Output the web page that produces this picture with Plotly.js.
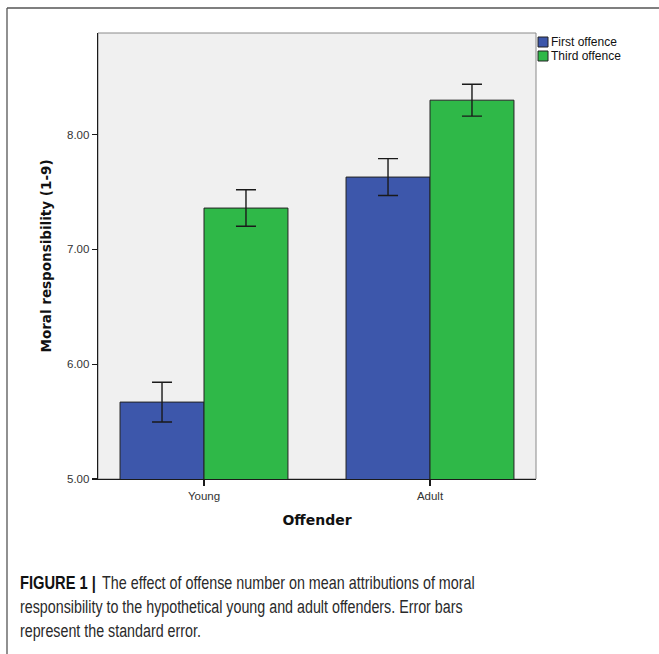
<!DOCTYPE html>
<html>
<head>
<meta charset="utf-8">
<script src="https://cdn.plot.ly/plotly-3.0.1.min.js"></script>
<style>
  html, body { margin: 0; padding: 0; background: #ffffff; }
  #chart { width: 659px; height: 654px; }
</style>
</head>
<body>
<div id="chart"></div>
<script>
// ---- data ----
const categories = ['Young', 'Adult'];
const seriesNames = ['First offence', 'Third offence'];
const firstMeans = [5.67, 7.63];
const firstSE = [0.173, 0.161];
const thirdMeans = [7.36, 8.30];
const thirdSE = [0.159, 0.139];
const yTickVals = [5, 6, 7, 8];
const xTitle = 'Offender';
const yTitle = 'Moral responsibility (1-9)';
const captionBold = 'FIGURE 1 |';
const captionLines = [
  'The effect of offense number on mean attributions of moral',
  'responsibility to the hypothetical young and adult offenders. Error bars',
  'represent the standard error.'
];

// ---- styling ----
const colors = ['#3d57ab', '#2fb848'];
const W = 659, H = 654;
const M = { l: 98, r: 123, t: 33, b: 175 };
const PW = W - M.l - M.r, PH = H - M.t - M.b;
const px = x => (x - M.l) / PW;
const py = y => (H - M.b - y) / PH;
// caption pieces: [left x, target text width] in pixels
const capBoldBox = [18, 76];
const capLineBoxes = [[100, 373], [18, 443], [18, 181]];

const errStyle = { type: 'data', symmetric: true, color: '#1a1a1a', thickness: 1.4, width: 10 };
const traces = [
  { type: 'bar', name: seriesNames[0], x: categories, y: firstMeans,
    error_y: Object.assign({ array: firstSE }, errStyle),
    marker: { color: colors[0], line: { color: '#222', width: 1 } } },
  { type: 'bar', name: seriesNames[1], x: categories, y: thirdMeans,
    error_y: Object.assign({ array: thirdSE }, errStyle),
    marker: { color: colors[1], line: { color: '#222', width: 1 } } }
];

const shapes = [
  { type: 'rect', xref: 'paper', yref: 'paper', x0: 0, x1: 1, y0: 0, y1: 1,
    line: { color: '#8a8a8a', width: 1 }, layer: 'below' },
  { type: 'line', xref: 'paper', yref: 'paper', x0: px(7), x1: px(659), y0: py(8), y1: py(8),
    line: { color: '#555555', width: 1.3 } },
  { type: 'line', xref: 'paper', yref: 'paper', x0: px(7), x1: px(7), y0: py(8), y1: py(654),
    line: { color: '#555555', width: 1.3 } }
];
const annotations = [];
seriesNames.forEach((nm, i) => {
  const top = 37 + i * 14;
  shapes.push({ type: 'rect', xref: 'paper', yref: 'paper',
    x0: px(538), x1: px(548), y0: py(top), y1: py(top + 10),
    fillcolor: colors[i], line: { color: '#222', width: 1 } });
  annotations.push({ xref: 'paper', yref: 'paper', x: px(549), y: py(top + 5),
    xanchor: 'left', yanchor: 'middle', showarrow: false, text: nm,
    font: { family: 'Liberation Sans, Arial, sans-serif', size: 12, color: '#111' } });
});
const capFont = { family: '"Liberation Sans", Arial, sans-serif', size: 19, color: '#2a2a2a' };
const fitList = [];
annotations.push({ xref: 'paper', yref: 'paper', x: px(capBoldBox[0]), y: py(582),
  xanchor: 'left', yanchor: 'middle', showarrow: false, text: '<b>' + captionBold + '</b>',
  align: 'left', font: Object.assign({}, capFont, { color: '#111' }) });
fitList.push([captionBold, capBoldBox[1]]);
captionLines.forEach((ln, i) => {
  annotations.push({ xref: 'paper', yref: 'paper', x: px(capLineBoxes[i][0]), y: py(582 + i * 24),
    xanchor: 'left', yanchor: 'middle', showarrow: false, text: ln, align: 'left',
    font: capFont });
  fitList.push([ln, capLineBoxes[i][1]]);
});

const layout = {
  width: W, height: H,
  margin: M,
  paper_bgcolor: '#ffffff',
  plot_bgcolor: '#f0f0f0',
  showlegend: false,
  barmode: 'group',
  bargap: 0.257,
  bargroupgap: 0,
  font: { family: 'Liberation Sans, Arial, sans-serif', size: 11.5, color: '#333' },
  xaxis: {
    type: 'category', range: [-0.469, 1.469],
    showline: true, linecolor: '#1a1a1a', linewidth: 1.3,
    ticks: 'outside', ticklen: 6, tickcolor: '#1a1a1a', tickwidth: 1.3,
    tickfont: { size: 11.5, color: '#333' },
    showgrid: false, zeroline: false, fixedrange: true,
    title: { text: xTitle, standoff: 14,
      font: { family: 'DejaVu Sans, sans-serif', size: 14, color: '#111', weight: 'bold' } }
  },
  yaxis: {
    range: [5, 8.885], tickvals: yTickVals, tickformat: '.2f',
    showline: true, linecolor: '#1a1a1a', linewidth: 1.3,
    ticks: 'outside', ticklen: 5, tickcolor: '#1a1a1a', tickwidth: 1.3,
    tickfont: { size: 11.5, color: '#333' },
    showgrid: false, zeroline: false, fixedrange: true,
    title: { text: yTitle, standoff: 12,
      font: { family: 'DejaVu Sans, sans-serif', size: 13.5, color: '#111', weight: 'bold' } }
  },
  shapes: shapes,
  annotations: annotations
};

Plotly.newPlot('chart', traces, layout, { displayModeBar: false, staticPlot: true }).then(gd => {
  // horizontally condense caption pieces to the reference's measured widths
  gd.querySelectorAll('.annotation-text').forEach(t => {
    const content = t.textContent;
    fitList.forEach(([s, w]) => {
      if (content === s) {
        const natural = t.getComputedTextLength();
        if (natural > 0) {
          const k = w / natural;
          const x0 = parseFloat(t.getAttribute('x')) || 0;
          t.setAttribute('text-anchor', 'start');
          t.setAttribute('transform',
            'translate(' + x0 + ',0) scale(' + k.toFixed(4) + ',1) translate(' + (-x0) + ',0)');
        }
      }
    });
  });
});
</script>
</body>
</html>
